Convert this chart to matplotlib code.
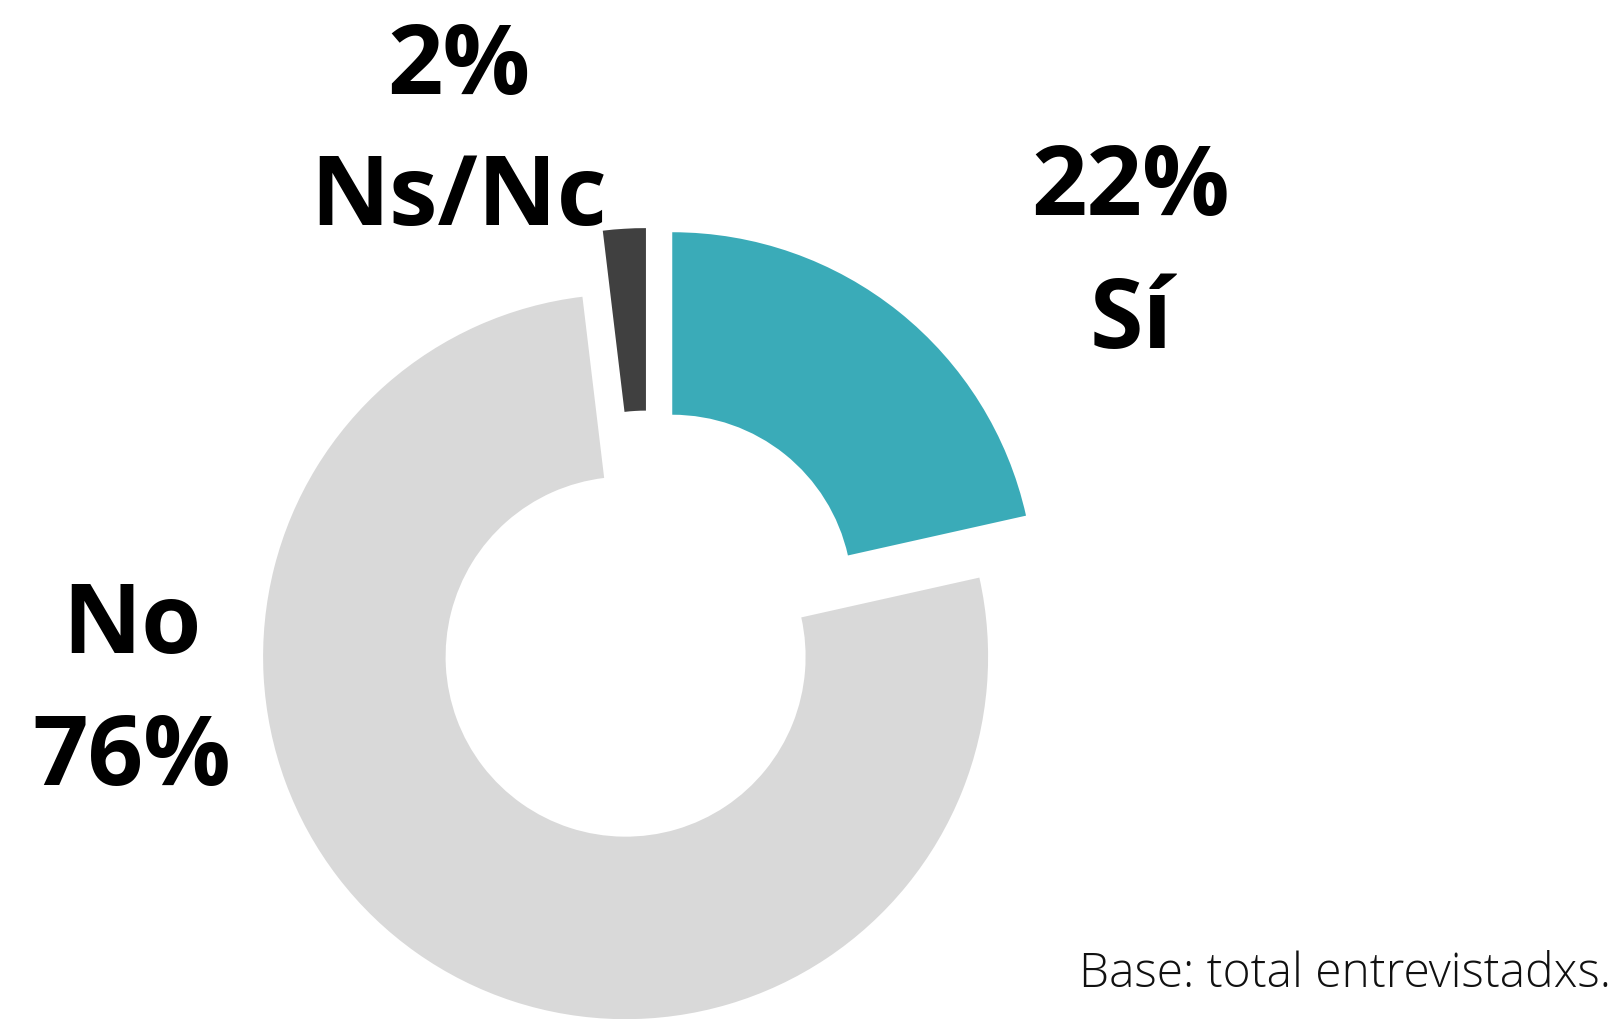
import matplotlib
matplotlib.use("Agg")
import matplotlib.pyplot as plt

categories = ["Sí", "No", "Ns/Nc"]
values = [21.5, 76.6, 1.9]
pct_labels = ["22%", "76%", "2%"]
colors = ["#3aabb8", "#d9d9d9", "#404040"]
explode_frac = [0.107, 0.107, 0.095]

W, H = 1617, 1019
fig = plt.figure(figsize=(W / 100, H / 100), dpi=100)
ax = fig.add_axes([0, 0, 1, 1])

R = 362.5
cx, cy = 648, 394
ax.pie(values, colors=colors, startangle=90, counterclock=False,
       explode=[e * R for e in explode_frac], radius=R, center=(cx, cy), frame=True,
       wedgeprops=dict(width=182.5, linewidth=0))
ax.set_xlim(0, W)
ax.set_ylim(0, H)
ax.set_aspect("equal")
ax.axis("off")

bold = dict(family=["Open Sans", "DejaVu Sans"], fontweight="bold",
            fontsize=70, ha="center", va="center", color="black")

dy = 10
# Sí
ax.text(1131, H - 179 - dy, pct_labels[0], **bold)
ax.text(1131, H - 312 - dy, categories[0], **bold)
# Ns/Nc
ax.text(459, H - 58 - dy, pct_labels[2], **bold)
ax.text(459, H - 189 - dy, categories[2], **bold)
# No
ax.text(132, H - 618 - dy, categories[1], **bold)
ax.text(132, H - 749 - dy, pct_labels[1], **bold)

ax.text(1611, 32, "Base: total entrevistadxs.", family=["Open Sans", "DejaVu Sans"],
        fontweight="light", fontsize=34.5, ha="right", va="baseline", color="#111111")

fig.savefig("out.png", dpi=100)
